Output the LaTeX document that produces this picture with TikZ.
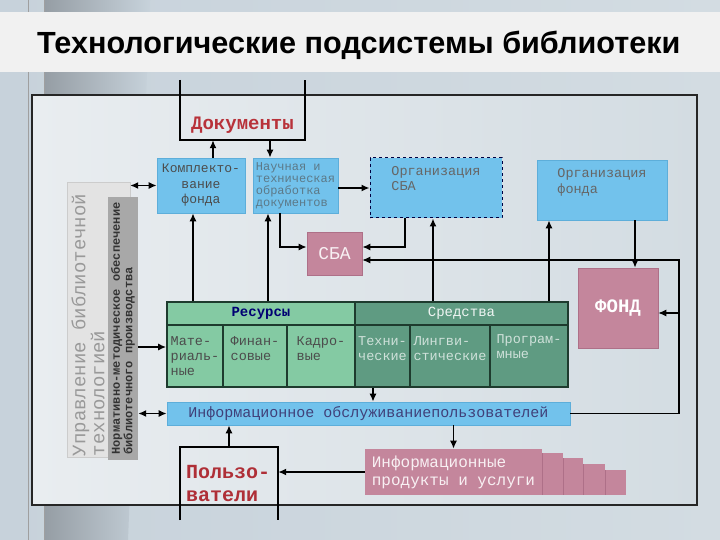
\documentclass[tikz,border=0pt]{standalone}
\usepackage{fontspec}
\setmainfont{Liberation Serif}
\newfontfamily\monofont{Liberation Mono}
\newfontfamily\headfont{Liberation Sans}
\usetikzlibrary{arrows.meta, calc, positioning}

\definecolor{bgleft}{HTML}{C7D2DB}
\definecolor{bgright}{HTML}{D3DCE2}
\definecolor{inleft}{HTML}{E9EDF0}
\definecolor{inright}{HTML}{D3DCE2}
\definecolor{band}{HTML}{F1F1F1}
\definecolor{boxblue}{HTML}{72C2EC}
\definecolor{blueedge}{HTML}{5DAEDA}
\definecolor{rosefill}{HTML}{C4869C}
\definecolor{roseedge}{HTML}{AE7088}
\definecolor{resgreen}{HTML}{84CAA3}
\definecolor{toolgreen}{HTML}{5F9B82}
\definecolor{tabline}{HTML}{1E3B2E}
\definecolor{panelgray}{HTML}{E3E3E3}
\definecolor{normgray}{HTML}{A8A8A8}
\definecolor{docred}{HTML}{B8323A}

\tikzset{
    conn/.style = {line width=1.5pt, black},
    thinconn/.style = {line width=1.1pt, black},
    bluebox/.style = {rectangle, fill=boxblue, draw=blueedge, line width=0.6pt,
        inner sep=2pt, text=black!70, font=\monofont\fontsize{13}{15.5}\selectfont},
    pinkbox/.style = {rectangle, fill=rosefill, draw=roseedge, line width=0.6pt,
        inner sep=2pt, text=white!88!rosefill},
    cell/.style = {rectangle, draw=tabline, line width=1.6pt, minimum height=62,
        align=left, inner sep=0pt, font=\monofont\fontsize{13.5}{15}\selectfont},
    headcell/.style = {cell, minimum height=23, font=\monofont\bfseries\fontsize{14}{16}\selectfont},
    openbox/.style = {rectangle, inner sep=0pt, text=docred,
        font=\monofont\bfseries\fontsize{19}{23}\selectfont},
    boxline/.style = {line width=1.8pt, black}
}

\begin{document}
\begin{tikzpicture}[x=1pt, y=-1pt, > = {Latex[length=8pt,width=7pt]}]
    % background
    \useasboundingbox (0,0) rectangle (720,540);
    \shade[left color=bgleft, right color=bgright] (0,0) rectangle (720,540);
    \shade[left color=black!25!bgleft, right color=bgleft] (44,0) -- (150,0) -- (128,540) -- (44,540) -- cycle;
    \draw[gray!75, line width=0.8pt] (28,0) -- (28,540) (44,0) -- (44,540);
    \fill[band] (0,12) rectangle (720,72);
    \shade[left color=inleft, right color=inright] (32,95) rectangle (697,505);
    \draw[line width=1.6pt, black!85] (32,95) rectangle (697,505);

    \node[anchor=west, inner sep=0pt, font=\headfont\bfseries\fontsize{30.6}{36}\selectfont]
        (title) at (37,45) {Технологические подсистемы библиотеки};

    % left panels
    \node[rectangle, fill=panelgray, draw=black!20, minimum width=63, minimum height=275,
        inner sep=0pt] (mgmt) at (98.5,319.5) {};
    \node[rotate=90, align=left, inner sep=0pt, text=black!40,
        font=\monofont\fontsize{19}{19}\selectfont] (mgmttext) at (88,325)
        {Управление библиотечной\\технологией};
    \node[rectangle, fill=normgray, rotate=90, minimum width=263, minimum height=30,
        inner sep=0pt, align=left, text=black!80,
        font=\monofont\bfseries\fontsize{12}{12.5}\selectfont] (norm) at (123,328.5)
        {Нормативно-методическое обеспечение\\библиотечного производства};

    % upper row
    \node[openbox, minimum width=125, minimum height=30] (docs) at (242.5,125) {Документы};
    \node[bluebox, minimum width=88, minimum height=55, align=center] (komp) at (201,185.5)
        {Комплекто-\\вание\\фонда};
    \node[bluebox, minimum width=85, minimum height=55, align=left, text=black!40!boxblue!60!gray,
        font=\monofont\fontsize{12}{12}\selectfont] (nauch) at (295.5,185.5)
        {Научная и\\техническая\\обработка\\документов};
    \node[bluebox, minimum width=132, minimum height=60, align=left, draw=black!75!blue,
        dashed, line width=1pt, text=black!60, font=\monofont\fontsize{13.5}{15}\selectfont]
        (orgsba) at (436,188) {Организация\\СБА\\[4pt]};
    \node[bluebox, minimum width=130, minimum height=60, align=left, text=black!60,
        font=\monofont\fontsize{13.5}{16}\selectfont] (orgfond) at (602,190)
        {Организация\\фонда\\[2pt]};
    \node[pinkbox, minimum width=55, minimum height=43,
        font=\monofont\fontsize{18}{20}\selectfont] (sba) at (334.5,253.5) {СБА};
    \node[pinkbox, minimum width=80, minimum height=80, text=white,
        font=\monofont\bfseries\fontsize{19}{22}\selectfont] (fond) at (618,308) {ФОНД};

    % resources and tools
    \node[headcell, fill=resgreen, minimum width=188, text=blue!45!black] (res) at (261,313.5) {Ресурсы};
    \node[headcell, fill=toolgreen, minimum width=213, text=white!90!toolgreen,
        font=\monofont\fontsize{14}{16}\selectfont] (sred) at (461.5,313.5) {Средства};
    \node[cell, fill=resgreen, minimum width=56, text=black!70] (mat) at (195,356) {Мате-\\риаль-\\ные};
    \node[cell, fill=resgreen, minimum width=64, text=black!70] (fin) at (255,356) {Финан-\\совые\\ };
    \node[cell, fill=resgreen, minimum width=68, text=black!70] (kadr) at (321,356) {Кадро-\\вые\\ };
    \node[cell, fill=toolgreen, minimum width=55, text=white!70!toolgreen] (tech) at (382.5,356) {Техни-\\ческие\\ };
    \node[cell, fill=toolgreen, minimum width=80, text=white!70!toolgreen] (ling) at (450,356) {Лингви-\\стические\\ };
    \node[cell, fill=toolgreen, minimum width=78, text=white!70!toolgreen] (prog) at (529,356) {Програм-\\мные\\[4pt]};

    % lower row
    \node[bluebox, minimum width=403, minimum height=23, text=blue!30!black!75,
        font=\monofont\fontsize{15}{17}\selectfont] (info) at (368.5,413.5)
        {Информационное обслуживаниепользователей};
    \node[openbox, minimum width=98, minimum height=73, align=left, text width=86,
        font=\monofont\bfseries\fontsize{20}{23}\selectfont, text=docred!95!black] (users) at (229,483.5)
        {Пользо-\\ватели};
    \foreach \xa/\xb/\yt in {542/563/453, 563/583/458, 583/605/464, 605/626/470} {
        \fill[rosefill] (\xa,\yt) rectangle (\xb,495);
        \draw[roseedge, line width=0.8pt] (\xa,\yt) -- (\xa,495);
    }
    \node[pinkbox, draw=none, minimum width=177, minimum height=46, align=left,
        font=\monofont\fontsize{16}{18}\selectfont] (prod) at (453.5,472)
        {Информационные\\продукты и услуги};

    % open boxes
    \draw[boxline] ([yshift=30pt]docs.north west) -- (docs.south west) -- (docs.south east)
        -- ([yshift=30pt]docs.north east);
    \draw[boxline] (users.south west) -- (users.north west) -- (users.north east) -- (users.south east);

    % connectors
    \coordinate (rbus) at (679,260);
    \draw[conn,->] ([xshift=12pt]komp.north) -- ([xshift=12pt]komp.north |- docs.south);
    \draw[conn,->] ([xshift=-25.5pt]nauch.north |- docs.south) -- ([xshift=-25.5pt]nauch.north);
    \draw[conn,<->] (mgmt.east |- komp.west) -- (komp.west);
    \draw[conn,->] (nauch.east |- orgsba.west) -- (orgsba.west);
    \draw[conn,->] ([xshift=-15.5pt]nauch.south) |- ([yshift=6.5pt]sba.west);
    \draw[conn,->] ([xshift=-31pt]orgsba.south) |- ([yshift=6.5pt]sba.east);
    \draw[thinconn,->] (info.east) -| (rbus) -- (sba.east |- rbus);
    \draw[thinconn,->] ([yshift=-5pt]fond.east -| rbus) -- ([yshift=-5pt]fond.east);
    \draw[conn,->] ([xshift=33pt]orgfond.south) -- ([xshift=33pt]orgfond.south |- fond.north);
    \draw[conn,->] ([xshift=-8pt]komp.south |- res.north) -- ([xshift=-8pt]komp.south);
    \draw[conn,->] ([xshift=-27.5pt]nauch.south |- res.north) -- ([xshift=-27.5pt]nauch.south);
    \draw[conn,->] ([xshift=-3pt]orgsba.south |- sred.north) -- ([xshift=-3pt]orgsba.south);
    \draw[conn,->] ([xshift=-53pt]orgfond.south |- sred.north) -- ([xshift=-53pt]orgfond.south);
    \draw[conn,->] ([yshift=9pt]norm.south |- mat.west) -- ([yshift=9pt]mat.west);
    \draw[conn,<->] (norm.south |- info.west) -- (info.west);
    \draw[conn,->] ([xshift=-9.5pt]tech.south) -- ([xshift=-9.5pt]tech.south |- info.north);
    \draw[conn,->] (users.north) -- (users.north |- info.south);
    \draw[conn,->] (prod.north |- info.south) -- (prod.north);
    \draw[conn,->] (prod.west) -- (users.east |- prod.west);
\end{tikzpicture}
\end{document}
